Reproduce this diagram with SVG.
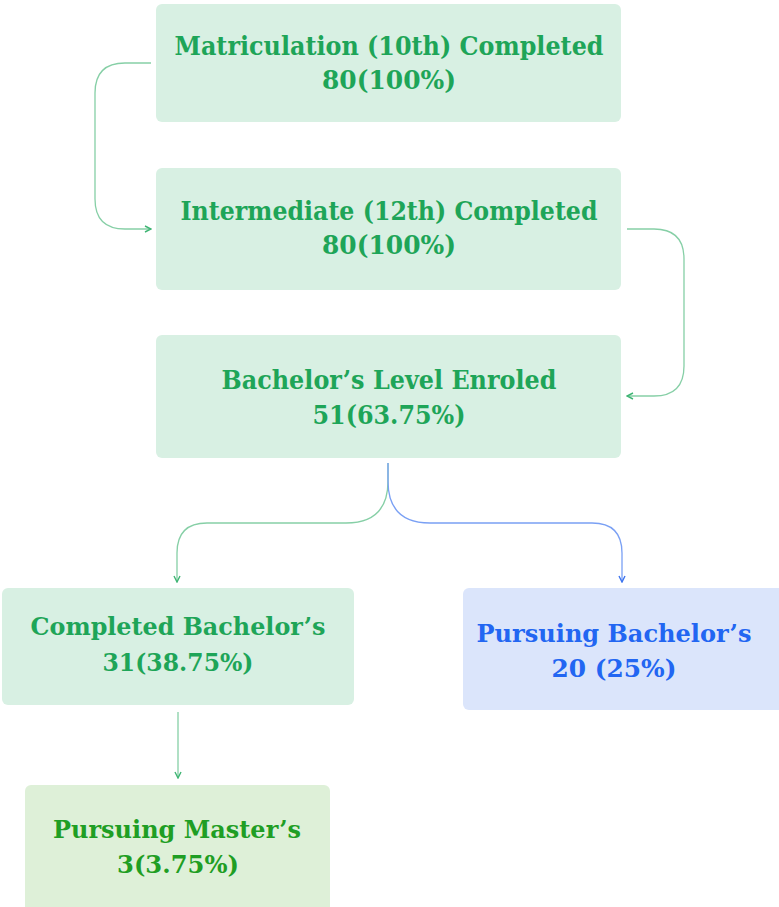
<svg xmlns="http://www.w3.org/2000/svg" width="779" height="907" viewBox="0 0 779 907">
  <style>
    .box-green { fill: #d8f0e3; }
    .box-blue { fill: #dbe5fb; }
    .box-lime { fill: #def0d8; }
    .label { font-family: "DejaVu Serif", "Liberation Serif", serif; font-weight: bold; text-anchor: middle; }
    .t-green { fill: #1ea558; font-size: 26px; }
    .t-blue { fill: #2266f2; font-size: 25px; }
    .t-lime { fill: #1f9e24; font-size: 25px; }
    .t-sm { font-size: 25px; }
    .edge { fill: none; stroke-width: 1.3; }
    .edge-green { stroke: #86cfa6; }
    .edge-blue { stroke: #7aa0f4; }
  </style>
  <defs>
    <marker id="head-green" viewBox="0 0 8 8" refX="7" refY="4" markerWidth="8" markerHeight="8" markerUnits="userSpaceOnUse" orient="auto">
      <path d="M1,1 L7,4 L1,7" fill="none" stroke="#3fb574" stroke-width="1.4"/>
    </marker>
    <marker id="head-blue" viewBox="0 0 8 8" refX="7" refY="4" markerWidth="8" markerHeight="8" markerUnits="userSpaceOnUse" orient="auto">
      <path d="M1,1 L7,4 L1,7" fill="none" stroke="#3d74ef" stroke-width="1.4"/>
    </marker>
  </defs>

  <!-- connectors -->
  <g id="connectors">
    <path class="edge edge-green" d="M151,63 H125 Q95,63 95,93 V199 Q95,229 125,229 H151" marker-end="url(#head-green)"/>
    <path class="edge edge-green" d="M627,229 H654 Q684,229 684,259 V366 Q684,396 654,396 H627" marker-end="url(#head-green)"/>
    <path class="edge edge-green" d="M388,463 V481 Q388,523 346,523 H207 Q177,523 177,553 V582" marker-end="url(#head-green)"/>
    <path class="edge edge-blue" d="M388,463 V481 Q388,523 430,523 H592 Q622,523 622,553 V582" marker-end="url(#head-blue)"/>
    <path class="edge edge-green" d="M178,712 V778" marker-end="url(#head-green)"/>
  </g>

  <!-- nodes -->
  <g id="matriculation">
    <rect class="box-green" x="156" y="4" width="465" height="118" rx="6"/>
    <text class="label t-green" x="389" y="55" textLength="429" lengthAdjust="spacingAndGlyphs">Matriculation (10th) Completed</text>
    <text class="label t-green" x="389" y="89" textLength="134" lengthAdjust="spacingAndGlyphs">80(100%)</text>
  </g>

  <g id="intermediate">
    <rect class="box-green" x="156" y="168" width="465" height="122" rx="6"/>
    <text class="label t-green" x="389" y="220" textLength="417" lengthAdjust="spacingAndGlyphs">Intermediate (12th) Completed</text>
    <text class="label t-green" x="389" y="254" textLength="134" lengthAdjust="spacingAndGlyphs">80(100%)</text>
  </g>

  <g id="bachelor-enroled">
    <rect class="box-green" x="156" y="335" width="465" height="123" rx="6"/>
    <text class="label t-green" x="389" y="389" textLength="335" lengthAdjust="spacingAndGlyphs">Bachelor’s Level Enroled</text>
    <text class="label t-green" x="389" y="424" textLength="153" lengthAdjust="spacingAndGlyphs">51(63.75%)</text>
  </g>

  <g id="completed-bachelor">
    <rect class="box-green" x="2" y="588" width="352" height="117" rx="6"/>
    <text class="label t-green t-sm" x="178" y="635" textLength="295" lengthAdjust="spacingAndGlyphs">Completed Bachelor’s</text>
    <text class="label t-green t-sm" x="178" y="671" textLength="151" lengthAdjust="spacingAndGlyphs">31(38.75%)</text>
  </g>

  <g id="pursuing-bachelor">
    <rect class="box-blue" x="463" y="588" width="326" height="122" rx="6"/>
    <text class="label t-blue" x="614" y="642" textLength="275" lengthAdjust="spacingAndGlyphs">Pursuing Bachelor’s</text>
    <text class="label t-blue" x="614" y="677" textLength="125" lengthAdjust="spacingAndGlyphs">20 (25%)</text>
  </g>

  <g id="pursuing-master">
    <rect class="box-lime" x="25" y="785" width="305" height="130" rx="6"/>
    <text class="label t-lime" x="177" y="838" textLength="248" lengthAdjust="spacingAndGlyphs">Pursuing Master’s</text>
    <text class="label t-lime" x="178" y="873" textLength="122" lengthAdjust="spacingAndGlyphs">3(3.75%)</text>
  </g>
</svg>
